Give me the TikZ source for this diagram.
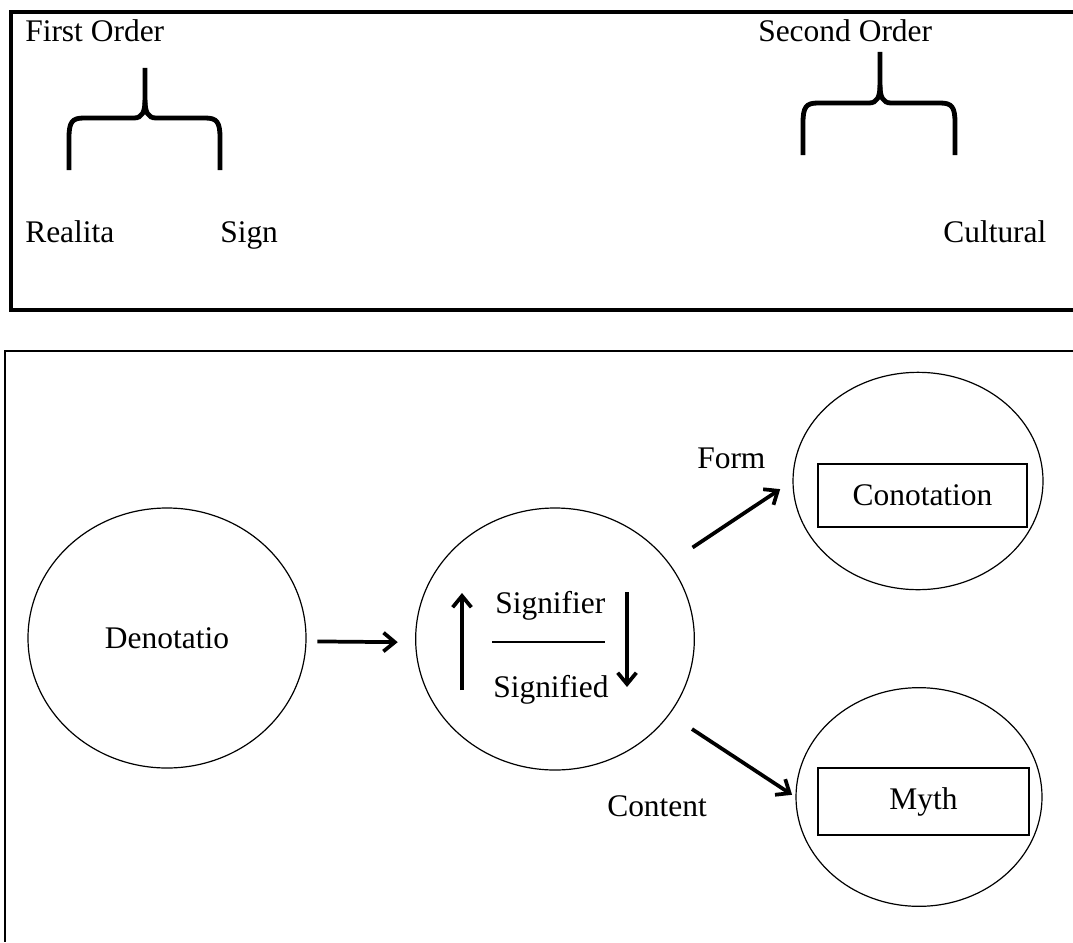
\documentclass[tikz,border=0pt]{standalone}
\usepackage{fontspec}
\setmainfont{Liberation Serif}
\usetikzlibrary{shapes.geometric, arrows.meta, positioning}

\begin{document}
\begin{tikzpicture}[x=0.75pt, y=-0.75pt, font=\fontsize{23.6}{28}\selectfont,
    circ/.style={draw, ellipse, line width=0.9pt, inner sep=0pt},
    inbox/.style={draw, rectangle, line width=0.9pt},
    arr/.style={-{Straight Barb[length=8.5pt, width=14pt]}, line width=2.8pt},
    brace/.style={line width=3.6pt},
    lbl/.style={anchor=base west, inner sep=0pt}]
    \useasboundingbox (0,0) rectangle (1073,942);

    % Frames
    \draw [line width=2.4pt] (1073,12) -- (11,12) -- (11,310) -- (1073,310);
    \draw [line width=1.2pt] (1073,351) -- (5,351) -- (5,942);

    % Top labels
    \node [lbl] (first) at (25,42) {First Order};
    \node [lbl] (second) at (758,42) {Second Order};
    \node [lbl] (realita) at (25,242) {Realita};
    \node [lbl] (sign) at (220,242) {Sign};
    \node [lbl] (cultural) at (943,242) {Cultural};

    % Braces
    \draw [brace] (69,170) -- (69,138) .. controls (69,122) and (72,118) .. (84,118) -- (134,118)
        .. controls (142,118) and (145,112) .. (145,100) -- (145,68);
    \draw [brace] (220,170) -- (220,138) .. controls (220,122) and (217,118) .. (205,118) -- (156,118)
        .. controls (148,118) and (145,112) .. (145,100);
    \draw [brace] (803,155) -- (803,123) .. controls (803,107) and (806,103) .. (818,103) -- (869,103)
        .. controls (877,103) and (880,97) .. (880,85) -- (880,52);
    \draw [brace] (955,155) -- (955,123) .. controls (955,107) and (952,103) .. (940,103) -- (891,103)
        .. controls (883,103) and (880,97) .. (880,85);

    % Nodes
    \node [circ, minimum width=208.5pt, minimum height=195pt] (den) at (167,638) {Denotatio};
    \node [circ, minimum width=209pt, minimum height=196.5pt] (sig) at (555,639) {};
    \node [circ, minimum width=187.5pt, minimum height=163pt] (con) at (918,481) {};
    \node [inbox, minimum width=156.75pt, minimum height=47.25pt] (conbox) at (922.5,495.5) {Conotation};
    \node [circ, minimum width=184.5pt, minimum height=164pt] (myth) at (919,797) {};
    \node [inbox, minimum width=158.25pt, minimum height=50.25pt] (mythbox) at (923.5,801.5) {Myth};

    \node [lbl] (signifier) at (495,613) {Signifier};
    \node [lbl] (signified) at (493,697) {Signified};
    \node [lbl] (form) at (697,468) {Form};
    \node [lbl] (content) at (607,816) {Content};

    \coordinate (barL) at (492,642);
    \coordinate (barR) at (605,642);
    \coordinate (upS) at (462,690);
    \coordinate (upE) at (462,593);
    \coordinate (dnS) at (627,592);
    \coordinate (dnE) at (627,687);

    % Arrows
    \draw [arr, shorten <=8pt, shorten >=13pt] ([yshift=-2.5pt]den.east) -- ([yshift=-2.5pt]sig.west);
    \draw [arr, shorten <=21pt, shorten >=11pt] (sig) -- (con.west);
    \draw [arr, shorten <=20pt, shorten >=3pt] (sig) -- (myth.west);
    \draw [arr] (upS) -- (upE);
    \draw [arr] (dnS) -- (dnE);
    \draw [line width=0.9pt] (barL) -- (barR);

\end{tikzpicture}
\end{document}
